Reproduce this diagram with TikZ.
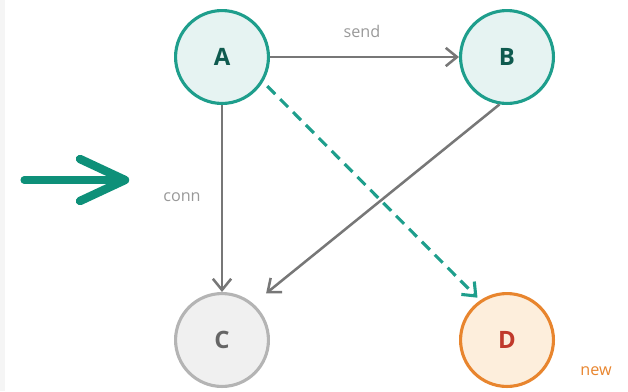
\documentclass[tikz,border=0pt]{standalone}
\usepackage{fontspec}
\setmainfont{Open Sans}
\usetikzlibrary{arrows.meta}
\definecolor{tealline}{HTML}{1E9E8C}
\definecolor{tealfill}{HTML}{E6F3F2}
\definecolor{tealtext}{HTML}{0F5A4F}
\definecolor{bigarrow}{HTML}{0E9079}
\definecolor{greyline}{HTML}{777777}
\definecolor{greyfill}{HTML}{F0F0F0}
\definecolor{greyedge}{HTML}{B4B4B4}
\definecolor{greytext}{HTML}{666666}
\definecolor{orangeline}{HTML}{E8852E}
\definecolor{orangefill}{HTML}{FDEEDC}
\definecolor{redtext}{HTML}{C0392B}
\tikzset{
  px/.style={x=0.025cm,y=-0.025cm},
  state/.style={circle,minimum size=96*0.025cm-2.2pt,line width=2.2pt,font=\bfseries\fontsize{17}{20}\selectfont},
  peer/.style={state,draw=tealline,fill=tealfill,text=tealtext},
  idle/.style={state,draw=greyedge,fill=greyfill,text=greytext},
  fresh/.style={state,draw=orangeline,fill=orangefill,text=redtext},
  link/.style={draw=greyline,line width=1.8pt,-{Straight Barb[length=8pt,width=13pt,line width=1.8pt]}},
  newlink/.style={draw=tealline,line width=2.2pt,dash pattern=on 8pt off 5pt,-{Straight Barb[length=8pt,width=13pt,line width=2.2pt]}},
  edgelabel/.style={text=greyline!75,font=\fontsize{11.5}{14}\selectfont}
}
\begin{document}
\begin{tikzpicture}[px]
		%%%%% START %%%%%
		\useasboundingbox (0,0) rectangle (628,391);
		\fill[black!4] (0,0) rectangle (5,391);
		
		\node[peer] (A) at (222,57) {A};
		\node[peer] (B) at (507,57) {B};
		\node[idle] (C) at (222,340) {C};
		\node[fresh] (D) at (507,340) {D};
		\node[text=orangeline,font=\fontsize{11.5}{14}\selectfont] (Dtag) at (596,371) {new};
		
		\draw[link] (A) -- (B);
		\node[edgelabel] (sendlbl) at (362,31) {send};
		\draw[link] (A) -- (C);
		\node[edgelabel] (connlbl) at (182,197) {conn};
		\draw[link] (B.261) -- ([shift={(12,-11)}]C.48);
		\draw[newlink] ([shift={(5,3)}]A.327) -- ([shift={(-2,-3)}]D.125);
		
		% big arrow on the left
		\coordinate (bigtail) at (24,180);
		\coordinate (bighead) at (125,180);
		\draw[bigarrow,line width=5pt,line cap=round,line join=round] (bigtail) -- (bighead);
		\draw[bigarrow,line width=6pt,line cap=round,line join=round] (80,159) -- (bighead) -- (80,201);
		%%%%% END %%%%%
	\end{tikzpicture}
\end{document}
